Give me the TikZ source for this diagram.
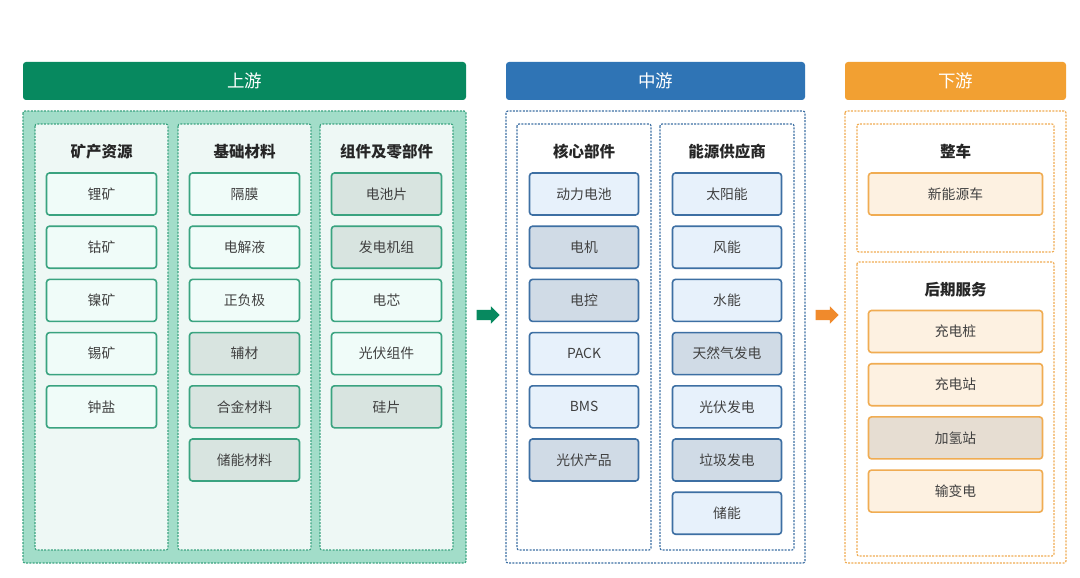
\documentclass[tikz,border=0pt]{standalone}
\usepackage{fontspec}
\setmainfont{Noto Sans CJK SC}
\usetikzlibrary{positioning,shapes.arrows}
\definecolor{upgreen}{HTML}{07895F}
\definecolor{upband}{HTML}{A2DDC9}
\definecolor{upline}{HTML}{3AA380}
\definecolor{uppale}{HTML}{EEF8F5}
\definecolor{upbox}{HTML}{F0FCF9}
\definecolor{upgrey}{HTML}{D8E4E0}
\definecolor{midblue}{HTML}{2F74B5}
\definecolor{midline}{HTML}{3D6FA3}
\definecolor{midbox}{HTML}{E7F1FB}
\definecolor{midgrey}{HTML}{D0DBE6}
\definecolor{downorange}{HTML}{F2A032}
\definecolor{downarrow}{HTML}{F08A2C}
\definecolor{downline}{HTML}{F0AC52}
\definecolor{downbox}{HTML}{FDF1E1}
\definecolor{downgrey}{HTML}{E6DDD2}
\definecolor{inktext}{HTML}{404040}
\tikzset{
  stage head/.style={
    fill=#1,
    rounded corners=3pt,
    text=white,
    font=\fontsize{17.5}{20}\selectfont,
  },
  frame/.style={
    draw=#1,
    line width=1.2pt,
    dash pattern=on 2pt off 1.3pt,
    rounded corners=2pt,
  },
  group title/.style={
    font=\fontsize{15.5}{18}\selectfont\bfseries,
    text=black!85,
  },
  item box/.style={
    draw=#1,
    line width=1.6pt,
    rounded corners=3pt,
    minimum height=42pt,
    text=inktext,
    font=\fontsize{13.8}{16}\selectfont,
    inner sep=0pt,
  },
  up box/.style={item box=upline, fill=upbox, minimum width=110pt},
  up grey/.style={item box=upline, fill=upgrey, minimum width=110pt},
  mid box/.style={item box=midline, fill=midbox, minimum width=109pt},
  mid grey/.style={item box=midline, fill=midgrey, minimum width=109pt},
  down box/.style={item box=downline, fill=downbox, minimum width=174pt},
  down grey/.style={item box=downline, fill=downgrey, minimum width=174pt},
  flow arrow/.style={
    single arrow,
    fill=#1,
    inner sep=5pt,
    minimum height=23pt,
    single arrow head extend=3.5pt,
  },
}

\begin{document}
\begin{tikzpicture}[x=1pt,y=1pt,node distance=9.6pt]
        \useasboundingbox [fill=white] (0,0) rectangle (1080,-578);

        % headers
        \node [stage head=upgreen, minimum width=443pt, minimum height=38pt] (up) at (244.5,-81) {上游};
        \node [stage head=midblue, minimum width=299pt, minimum height=38pt] (mid) at (655.5,-81) {中游};
        \node [stage head=downorange, minimum width=221pt, minimum height=38pt] (down) at (955.5,-81) {下游};

        % frames
        \draw [frame=upline, fill=upband] (23,-111) rectangle (466,-563);
        \draw [frame=upline, fill=uppale] (35,-124) rectangle (168,-550);
        \draw [frame=upline, fill=uppale] (178,-124) rectangle (311,-550);
        \draw [frame=upline, fill=uppale] (320,-124) rectangle (453,-550);
        \draw [frame=midline] (506,-111) rectangle (805,-563);
        \draw [frame=midline] (517,-124) rectangle (651,-550);
        \draw [frame=midline] (660,-124) rectangle (794,-550);
        \draw [frame=downline] (845,-111) rectangle (1066,-563);
        \draw [frame=downline] (857,-124) rectangle (1054,-252);
        \draw [frame=downline] (857,-262) rectangle (1054,-556);

        % upstream
        \node [group title] (t1) at (101.5,-152) {矿产资源};
        \node [up box] (li) at (101.5,-194) {锂矿};
        \node [up box, below=of li] (gu) {钴矿};
        \node [up box, below=of gu] (nie) {镍矿};
        \node [up box, below=of nie] (xi) {锡矿};
        \node [up box, below=of xi] (zhong) {钟盐};

        \node [group title] (t2) at (244.5,-152) {基础材料};
        \node [up box] (ge) at (244.5,-194) {隔膜};
        \node [up box, below=of ge] (dj) {电解液};
        \node [up box, below=of dj] (zf) {正负极};
        \node [up grey, below=of zf] (fc) {辅材};
        \node [up grey, below=of fc] (hj) {合金材料};
        \node [up grey, below=of hj] (cn) {储能材料};

        \node [group title] (t3) at (386.5,-152) {组件及零部件};
        \node [up grey] (dcp) at (386.5,-194) {电池片};
        \node [up grey, below=of dcp] (fdj) {发电机组};
        \node [up box, below=of fdj] (dx) {电芯};
        \node [up box, below=of dx] (gfzj) {光伏组件};
        \node [up grey, below=of gfzj] (gp) {硅片};

        % midstream
        \node [group title] (t4) at (584,-152) {核心部件};
        \node [mid box] (dl) at (584,-194) {动力电池};
        \node [mid grey, below=of dl] (dji) {电机};
        \node [mid grey, below=of dji] (dk) {电控};
        \node [mid box, below=of dk] (pack) {PACK};
        \node [mid box, below=of pack] (bms) {BMS};
        \node [mid grey, below=of bms] (gfcp) {光伏产品};

        \node [group title] (t5) at (727,-152) {能源供应商};
        \node [mid box] (ty) at (727,-194) {太阳能};
        \node [mid box, below=of ty] (fn) {风能};
        \node [mid box, below=of fn] (sn) {水能};
        \node [mid grey, below=of sn] (trq) {天然气发电};
        \node [mid box, below=of trq] (gffd) {光伏发电};
        \node [mid grey, below=of gffd] (ljfd) {垃圾发电};
        \node [mid box, below=of ljfd] (cnn) {储能};

        % downstream
        \node [group title] (t6) at (955.5,-152) {整车};
        \node [down box] (xny) at (955.5,-194) {新能源车};

        \node [group title] (t7) at (955.5,-290) {后期服务};
        \node [down box] (cdz) at (955.5,-331.5) {充电桩};
        \node [down box, below=of cdz] (cdzhan) {充电站};
        \node [down grey, below=of cdzhan] (jqz) {加氢站};
        \node [down box, below=of jqz] (sbd) {输变电};

        % arrows
        \node [flow arrow=upgreen] (a1) at (485.5,-315) {};
        \node [flow arrow=downarrow] (a2) at (824.5,-315) {};
      \end{tikzpicture}
\end{document}
